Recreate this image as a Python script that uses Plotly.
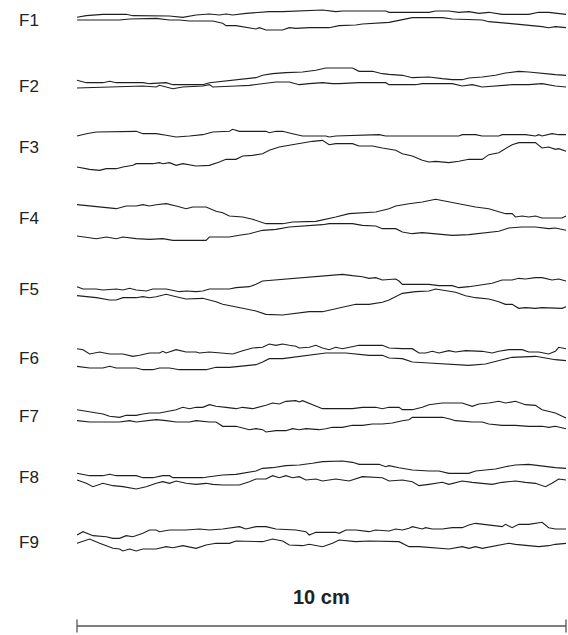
import numpy as np
import plotly.graph_objects as go

# Fracture wall traces. Each wall is a list of (station, depth) pairs in
# trace units: stations run 22..1492 along the 100 mm profile, depth grows downward.
ORIGIN = 22
TRACE_SPAN = 1470          # trace units covering 100 mm
PROFILE_MM = 100

F1_TOP = [(22,37),(50,32),(100,28),(170,28),(190,32),(300,33),(340,37),(380,30),(420,27),(450,30),(470,27),(490,30),(530,25),(600,20),(640,20),(700,18),(760,15),(800,20),(820,18),(950,18),(960,22),(1080,22),(1100,18),(1140,18),(1170,22),(1200,20),(1230,25),(1260,22),(1300,28),(1380,28),(1410,22),(1440,22),(1480,28),(1492,28)]
F1_BOT = [(22,45),(150,45),(180,42),(250,42),(260,40),(300,45),(330,45),(360,48),(430,48),(460,55),(470,62),(500,62),(540,68),(560,72),(570,68),(590,75),(640,75),(660,68),(680,70),(720,68),(780,68),(810,62),(860,60),(880,57),(960,52),(1000,45),(1030,38),(1120,38),(1150,42),(1240,45),(1260,50),(1320,55),(1380,60),(1420,65),(1440,68),(1460,65),(1492,68)]

F2_TOP = [(22,55),(50,62),(100,62),(120,58),(140,62),(220,62),(240,65),(290,62),(310,68),(400,68),(420,62),(460,58),(490,55),(530,50),(560,47),(580,40),(610,35),(650,32),(700,30),(740,25),(770,18),(850,18),(870,28),(910,28),(940,35),(960,37),(1000,40),(1030,47),(1060,47),(1080,45),(1120,50),(1150,53),(1180,53),(1200,48),(1240,45),(1280,40),(1310,33),(1350,28),(1380,30),(1420,35),(1460,38),(1492,40)]
F2_BOT = [(22,78),(100,75),(220,72),(260,75),(270,70),(310,80),(340,75),(400,72),(420,68),(430,75),(470,72),(500,72),(540,70),(580,65),(620,60),(660,60),(690,68),(720,65),(760,62),(790,65),(810,65),(870,62),(950,62),(960,68),(1040,68),(1060,65),(1150,65),(1180,72),(1210,68),(1240,75),(1280,72),(1300,72),(1330,68),(1380,68),(1420,65),(1460,72),(1492,75)]

F3_TOP = [(22,42),(50,35),(80,30),(200,28),(220,35),(260,35),(290,40),(320,45),(360,42),(400,38),(430,30),(480,28),(490,22),(510,28),(590,28),(600,32),(620,28),(640,28),(670,35),(700,42),(770,42),(780,45),(800,42),(860,40),(880,38),(930,38),(950,42),(1170,42),(1180,38),(1220,38),(1240,42),(1290,42),(1300,38),(1370,38),(1400,42),(1410,38),(1420,42),(1450,35),(1470,38),(1492,38)]
F3_BOT = [(22,135),(60,142),(90,145),(110,140),(140,140),(160,135),(190,130),(200,125),(250,125),(270,122),(280,125),(300,122),(320,130),(340,125),(380,132),(420,130),(450,120),(470,112),(500,112),(520,102),(550,100),(580,95),(600,85),(630,75),(660,70),(700,62),(730,58),(760,55),(780,68),(800,65),(850,65),(870,72),(910,72),(940,78),(980,85),(1000,95),(1030,102),(1060,115),(1080,120),(1100,118),(1140,122),(1170,118),(1200,112),(1240,112),(1260,98),(1290,92),(1310,80),(1330,68),(1350,62),(1400,62),(1420,78),(1440,75),(1460,82),(1470,80),(1492,88)]

F4_TOP = [(22,38),(80,45),(140,50),(170,42),(200,42),(220,38),(240,42),(260,38),(290,35),(320,42),(350,50),(370,45),(410,45),(440,58),(460,62),(480,72),(520,75),(550,82),(590,95),(640,95),(670,90),(740,88),(770,82),(800,75),(840,65),(880,62),(920,60),(960,50),(980,42),(1020,35),(1060,30),(1100,22),(1130,28),(1160,32),(1190,40),(1220,45),(1260,50),(1290,58),(1310,65),(1330,65),(1340,75),(1360,72),(1380,75),(1400,72),(1420,78),(1480,78),(1492,72)]
F4_BOT = [(22,132),(50,135),(80,140),(110,135),(140,140),(160,135),(200,140),(240,142),(280,140),(310,145),(410,145),(420,135),(480,135),(510,130),(540,125),(580,115),(620,112),(660,105),(720,102),(760,98),(780,95),(850,95),(880,100),(920,102),(940,110),(980,110),(1000,120),(1030,125),(1060,122),(1090,125),(1150,130),(1200,128),(1250,122),(1290,118),(1320,108),(1360,105),(1400,105),(1440,110),(1460,108),(1492,115)]

F5_TOP = [(22,65),(40,72),(80,72),(100,75),(140,72),(160,75),(180,70),(200,75),(230,78),(250,72),(290,72),(310,75),(330,80),(350,78),(380,80),(400,78),(420,72),(480,72),(500,68),(540,65),(560,58),(580,48),(620,45),(660,40),(700,38),(740,35),(780,32),(800,30),(820,28),(850,32),(880,35),(900,40),(920,38),(940,45),(980,42),(990,48),(1000,58),(1080,58),(1110,62),(1150,62),(1170,68),(1200,65),(1240,58),(1270,55),(1300,45),(1330,45),(1350,40),(1370,42),(1400,38),(1420,38),(1450,45),(1470,42),(1492,48)]
F5_BOT = [(22,92),(80,98),(120,105),(140,105),(160,98),(200,98),(220,95),(240,98),(260,95),(290,88),(320,95),(350,102),(400,100),(440,110),(460,118),(490,125),(520,130),(560,138),(590,148),(640,150),(680,145),(720,140),(760,140),(800,132),(830,125),(860,118),(900,118),(940,112),(960,105),(980,95),(1000,85),(1040,80),(1080,78),(1100,72),(1130,78),(1160,82),(1190,92),(1220,98),(1260,102),(1290,110),(1310,118),(1330,118),(1350,130),(1370,128),(1400,130),(1420,128),(1480,130),(1492,125)]

F6_TOP = [(22,32),(40,35),(60,48),(90,42),(120,48),(160,48),(190,55),(210,52),(240,45),(270,45),(280,40),(290,45),(320,35),(350,42),(380,42),(390,45),(420,42),(450,45),(490,48),(520,38),(550,30),(580,28),(600,18),(620,22),(640,18),(660,22),(680,25),(690,30),(720,28),(740,22),(760,30),(780,35),(800,28),(820,32),(850,25),(870,22),(940,22),(960,30),(1000,32),(1030,32),(1050,45),(1070,45),(1090,40),(1110,45),(1140,38),(1160,42),(1190,38),(1220,40),(1240,40),(1270,45),(1290,40),(1320,35),(1360,35),(1380,42),(1410,42),(1440,48),(1460,40),(1470,28),(1492,32)]
F6_BOT = [(22,85),(60,90),(100,90),(120,85),(140,90),(200,90),(220,95),(250,95),(270,90),(300,90),(330,95),(410,95),(440,88),(480,88),(510,85),(560,80),(580,72),(600,62),(640,62),(670,58),(700,55),(740,50),(770,45),(830,45),(860,48),(900,52),(940,52),(960,60),(1000,62),(1030,72),(1080,75),(1140,78),(1200,82),(1250,78),(1270,72),(1300,65),(1330,58),(1380,55),(1400,55),(1430,60),(1460,65),(1492,68)]

F7_TOP = [(22,35),(40,38),(70,45),(100,48),(120,55),(150,58),(170,52),(200,52),(220,48),(240,45),(270,45),(300,38),(320,35),(340,28),(360,32),(380,28),(400,28),(420,20),(440,25),(470,28),(500,32),(520,28),(550,32),(590,22),(610,15),(630,18),(650,10),(680,8),(690,12),(700,8),(730,20),(760,32),(850,32),(880,28),(920,28),(940,32),(960,28),(990,28),(1000,35),(1030,35),(1060,28),(1080,20),(1120,15),(1180,15),(1210,25),(1230,18),(1260,15),(1290,10),(1310,15),(1340,10),(1370,20),(1400,22),(1420,35),(1460,45),(1492,60)]
F7_BOT = [(22,68),(60,72),(150,72),(180,68),(200,72),(230,68),(260,65),(290,68),(320,72),(360,72),(380,68),(420,72),(440,72),(460,85),(500,85),(540,95),(560,92),(580,95),(590,102),(620,98),(650,98),(670,92),(690,95),(710,92),(750,95),(770,92),(790,88),(820,88),(850,82),(880,82),(910,78),(940,78),(970,75),(1000,68),(1020,65),(1030,58),(1120,58),(1140,62),(1160,68),(1210,72),(1240,72),(1260,78),(1300,82),(1340,82),(1380,85),(1420,85),(1440,88),(1460,85),(1492,92)]

F8_TOP = [(22,55),(60,62),(100,62),(120,58),(140,62),(200,62),(220,68),(250,68),(280,62),(300,62),(310,68),(400,68),(420,65),(460,60),(500,58),(520,55),(560,48),(580,40),(610,38),(650,32),(690,30),(730,25),(760,20),(820,18),(850,22),(870,28),(930,28),(950,35),(960,32),(990,38),(1030,45),(1080,48),(1110,48),(1140,55),(1200,55),(1220,48),(1260,45),(1280,42),(1310,35),(1340,30),(1380,28),(1430,35),(1460,38),(1492,40)]
F8_BOT = [(22,75),(50,85),(70,95),(100,85),(130,92),(160,95),(200,102),(230,95),(260,85),(280,80),(300,85),(320,78),(350,85),(380,88),(410,85),(430,88),(460,90),(510,90),(540,80),(560,72),(590,72),(600,68),(610,62),(630,68),(650,62),(670,68),(690,65),(710,75),(740,72),(760,78),(800,72),(820,75),(840,78),(880,65),(940,68),(960,78),(1000,75),(1030,80),(1050,92),(1080,88),(1120,82),(1140,88),(1180,78),(1210,82),(1250,85),(1270,88),(1300,82),(1340,78),(1370,82),(1400,85),(1430,95),(1450,85),(1470,72),(1492,75)]

F9_TOP = [(22,60),(40,50),(70,62),(110,65),(130,70),(150,70),(170,62),(190,65),(220,55),(240,45),(260,45),(270,50),(300,45),(350,45),(390,42),(420,45),(460,42),(490,38),(510,35),(530,42),(560,35),(590,35),(620,42),(680,45),(710,50),(720,60),(740,52),(800,52),(810,55),(830,45),(860,45),(900,50),(920,45),(960,48),(980,42),(1000,45),(1020,40),(1030,35),(1060,42),(1070,38),(1090,42),(1120,42),(1150,38),(1180,38),(1200,30),(1220,25),(1260,30),(1300,35),(1310,28),(1330,38),(1350,28),(1380,28),(1420,22),(1440,38),(1460,42),(1492,42)]
F9_BOT = [(22,85),(40,78),(60,72),(90,85),(130,100),(150,102),(160,108),(180,102),(200,108),(220,102),(260,102),(290,95),(310,98),(340,92),(360,95),(380,100),(410,90),(440,85),(480,85),(500,78),(580,80),(610,72),(640,78),(660,90),(700,92),(720,88),(760,95),(790,85),(810,75),(860,80),(900,78),(990,80),(1020,95),(1050,95),(1140,102),(1160,98),(1180,95),(1200,100),(1220,95),(1240,100),(1280,92),(1320,85),(1340,88),(1360,90),(1410,95),(1440,92),(1460,88),(1492,85)]

LABELS = ["F1", "F2", "F3", "F4", "F5", "F6", "F7", "F8", "F9"]
WALLS = [(F1_TOP, F1_BOT), (F2_TOP, F2_BOT), (F3_TOP, F3_BOT), (F4_TOP, F4_BOT),
         (F5_TOP, F5_BOT), (F6_TOP, F6_BOT), (F7_TOP, F7_BOT), (F8_TOP, F8_BOT),
         (F9_TOP, F9_BOT)]
SCALE_LABEL = "10 cm"

# ---- layout (page pixels) ----
W, H = 568, 635
X0_PX = 77.0                     # left end of profiles / scale bar
PX_PER_MM = 4.89
ROW_TOP_PX = [5, 62, 122, 192, 265, 338, 398, 455, 515]
LABEL_Y_PX = [20, 86, 147, 218, 289, 358, 416, 477, 542]
LINE_COLOR = "#1e1e1e"
TEXT_FONT = "Liberation Sans, Arial, sans-serif"

def to_mm(station):
    return (np.asarray(station, float) - ORIGIN) * PROFILE_MM / TRACE_SPAN

fig = go.Figure()
for top_px, (top, bot) in zip(ROW_TOP_PX, WALLS):
    for wall in (top, bot):
        st, d = zip(*wall)
        fig.add_trace(go.Scatter(
            x=to_mm(st),
            y=top_px + np.asarray(d, float) / 3.0,
            mode="lines", line=dict(color=LINE_COLOR, width=1.1),
            hoverinfo="skip", showlegend=False))

# scale bar: 100 mm
fig.add_trace(go.Scatter(x=[0, PROFILE_MM], y=[626, 626], mode="lines",
                         line=dict(color="#555555", width=1.3),
                         hoverinfo="skip", showlegend=False))
for xe in (0, PROFILE_MM):
    fig.add_trace(go.Scatter(x=[xe, xe], y=[619.5, 632.5], mode="lines",
                             line=dict(color="#555555", width=1.3),
                             hoverinfo="skip", showlegend=False))

for lab, ly in zip(LABELS, LABEL_Y_PX):
    fig.add_annotation(x=-(X0_PX - 17) / PX_PER_MM, y=ly, text=lab, showarrow=False,
                       xanchor="left", yanchor="middle",
                       font=dict(family=TEXT_FONT, size=17, color="#222222"))
fig.add_annotation(x=PROFILE_MM / 2, y=597, text="<b>%s</b>" % SCALE_LABEL, showarrow=False,
                   xanchor="center", yanchor="middle",
                   font=dict(family=TEXT_FONT, size=20, color="#222222"))

fig.update_layout(
    width=W, height=H, autosize=False,
    margin=dict(l=0, r=0, t=0, b=0),
    paper_bgcolor="white", plot_bgcolor="white",
    xaxis=dict(range=[-X0_PX / PX_PER_MM, (W - X0_PX) / PX_PER_MM], visible=False, fixedrange=True),
    yaxis=dict(range=[H, 0], visible=False, fixedrange=True),
)
fig.write_html("out.html")
